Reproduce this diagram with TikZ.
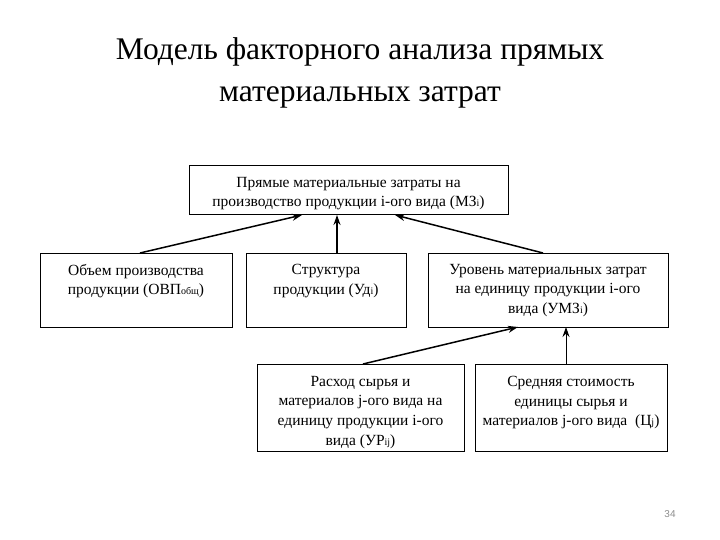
\documentclass[tikz,border=0pt]{standalone}
\usepackage{fontspec}
\setmainfont{Liberation Serif}
\newfontfamily\pagenumfont{Liberation Sans}
\usetikzlibrary{arrows.meta}
\newcommand{\sbs}[1]{{\fontsize{10}{10}\selectfont #1}}
\begin{document}
\begin{tikzpicture}[x=1pt,y=-1pt,
  box/.style={draw=black, line width=1pt, inner sep=0pt},
  txt/.style={align=center, font=\fontsize{15.5}{19.6}\selectfont, inner sep=0pt},
  arr/.style={line width=1.5pt, -{Stealth[length=10pt,width=7pt]}}]
\useasboundingbox (0,0) rectangle (720,540);
\node[align=center, font=\fontsize{31.5}{42}\selectfont, inner sep=0pt] (title) at (360,73)
  {Модель факторного анализа прямых\\материальных затрат};
% boxes
\node[box, minimum width=319pt, minimum height=49pt] (top) at (348.5,190.5) {};
\node[box, minimum width=192pt, minimum height=74pt] (l) at (136,290) {};
\node[box, minimum width=160pt, minimum height=74pt] (m) at (326,290) {};
\node[box, minimum width=240pt, minimum height=74pt] (r) at (548,290) {};
\node[box, minimum width=207pt, minimum height=87pt] (bl) at (360.5,407.5) {};
\node[box, minimum width=192pt, minimum height=87pt] (br) at (571,407.5) {};
% texts
\node[txt] (ttop) at ([yshift=-3pt]top.center) {Прямые материальные затраты на\\производство продукции i-ого вида (МЗ\sbs{i})};
\node[txt, anchor=north] (tl) at ([yshift=-11.5pt]l.north) {Объем производства\\продукции (ОВП\sbs{общ})};
\node[txt, anchor=north] (tm) at ([yshift=-11.5pt]m.north) {Структура\\продукции (Уд\sbs{i})};
\node[txt, anchor=north] (tr) at ([yshift=-11.5pt]r.north) {Уровень материальных затрат\\на единицу продукции i-ого\\вида (УМЗ\sbs{i})};
\node[txt, anchor=north] (tbl) at ([yshift=-12.5pt]bl.north) {Расход сырья и\\материалов j-ого вида на\\единицу продукции i-ого\\вида (УР\sbs{ij})};
\node[txt, anchor=north] (tbr) at ([yshift=-12.5pt]br.north) {Средняя стоимость\\единицы сырья и\\материалов j-ого вида\ \ (Ц\sbs{j})};
% arrows
\coordinate (a1s) at (140,253); \coordinate (a1e) at (302,215);
\coordinate (a2s) at (337,253); \coordinate (a2e) at (337,215);
\coordinate (a3s) at (543,253); \coordinate (a3e) at (395,215);
\coordinate (a4s) at (363,364); \coordinate (a4e) at (518,327);
\coordinate (a5s) at (566,364); \coordinate (a5e) at (566,327);
\draw[arr] (a1s) -- (a1e);
\draw[arr] (a2s) -- (a2e);
\draw[arr] (a3s) -- (a3e);
\draw[arr] (a4s) -- (a4e);
\draw[arr, line width=1pt] (a5s) -- (a5e);
\node[font=\pagenumfont\fontsize{10}{10}\selectfont, text=black!45, inner sep=0pt] (pn) at (670,514) {34};
\end{tikzpicture}
\end{document}
